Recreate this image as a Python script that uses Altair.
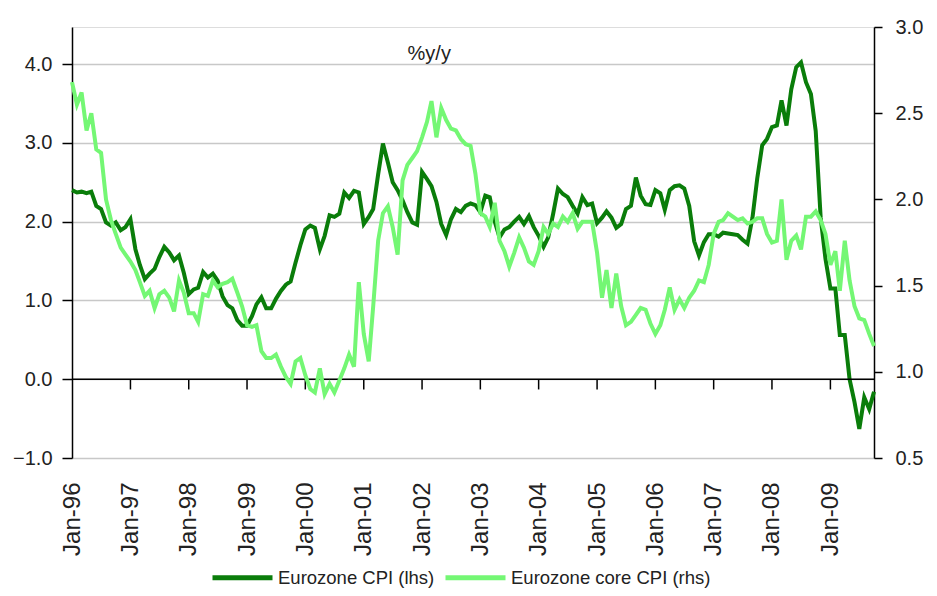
import altair as alt
import pandas as pd

# Eurozone CPI %y/y (left axis), monthly Jan-96 .. Oct-09
cpi_1996 = [2.40, 2.37, 2.38, 2.36, 2.38, 2.20, 2.16, 1.99, 1.95, 1.99, 1.89, 1.93]
cpi_1997 = [2.03, 1.65, 1.45, 1.27, 1.34, 1.40, 1.55, 1.68, 1.61, 1.51, 1.57, 1.35]
cpi_1998 = [1.08, 1.14, 1.16, 1.36, 1.29, 1.34, 1.25, 1.05, 0.94, 0.90, 0.75, 0.68]
cpi_1999 = [0.68, 0.80, 0.95, 1.04, 0.90, 0.90, 1.02, 1.12, 1.20, 1.24, 1.48, 1.70]
cpi_2000 = [1.90, 1.95, 1.92, 1.65, 1.82, 2.08, 2.06, 2.10, 2.37, 2.30, 2.39, 2.37]
cpi_2001 = [1.97, 2.06, 2.16, 2.60, 2.99, 2.75, 2.50, 2.40, 2.27, 2.12, 1.99, 1.96]
cpi_2002 = [2.63, 2.54, 2.45, 2.25, 1.97, 1.83, 2.03, 2.16, 2.12, 2.20, 2.23, 2.21]
cpi_2003 = [2.12, 2.33, 2.31, 2.00, 1.80, 1.90, 1.93, 2.00, 2.06, 1.97, 2.07, 1.93]
cpi_2004 = [1.82, 1.68, 1.80, 2.10, 2.42, 2.35, 2.31, 2.20, 2.10, 2.31, 2.21, 2.23]
cpi_2005 = [1.98, 2.05, 2.13, 2.05, 1.92, 1.97, 2.16, 2.20, 2.56, 2.33, 2.22, 2.21]
cpi_2006 = [2.40, 2.36, 2.15, 2.40, 2.45, 2.46, 2.42, 2.20, 1.75, 1.57, 1.74, 1.84]
cpi_2007 = [1.84, 1.81, 1.86, 1.85, 1.84, 1.83, 1.77, 1.72, 2.05, 2.55, 2.97, 3.05]
cpi_2008 = [3.20, 3.22, 3.54, 3.22, 3.68, 3.96, 4.02, 3.77, 3.62, 3.15, 2.05, 1.53]
cpi_2009 = [1.15, 1.15, 0.56, 0.56, 0.00, -0.29, -0.63, -0.23, -0.38, -0.16]

# Eurozone core CPI %y/y (right axis)
core_1996 = [2.68, 2.55, 2.62, 2.40, 2.50, 2.29, 2.27, 2.00, 1.88, 1.80, 1.72, 1.68]
core_1997 = [1.64, 1.59, 1.52, 1.44, 1.47, 1.37, 1.45, 1.47, 1.43, 1.35, 1.53, 1.46]
core_1998 = [1.34, 1.34, 1.29, 1.45, 1.44, 1.53, 1.49, 1.51, 1.52, 1.54, 1.46, 1.38]
core_1999 = [1.27, 1.26, 1.27, 1.12, 1.08, 1.08, 1.10, 1.03, 0.97, 0.93, 1.06, 1.08]
core_2000 = [0.98, 0.90, 0.88, 1.02, 0.87, 0.93, 0.88, 0.95, 1.02, 1.10, 1.03, 1.52]
core_2001 = [1.22, 1.06, 1.38, 1.76, 1.92, 1.96, 1.84, 1.68, 2.11, 2.20, 2.24, 2.28]
core_2002 = [2.36, 2.45, 2.57, 2.36, 2.53, 2.46, 2.41, 2.40, 2.35, 2.32, 2.31, 2.15]
core_2003 = [1.92, 1.90, 1.84, 1.98, 1.76, 1.70, 1.61, 1.69, 1.78, 1.72, 1.64, 1.62]
core_2004 = [1.70, 1.84, 1.80, 1.86, 1.84, 1.90, 1.87, 1.92, 1.83, 1.87, 1.87, 1.87]
core_2005 = [1.69, 1.43, 1.59, 1.37, 1.57, 1.38, 1.27, 1.29, 1.33, 1.37, 1.36, 1.28]
core_2006 = [1.22, 1.27, 1.36, 1.49, 1.36, 1.42, 1.37, 1.43, 1.47, 1.53, 1.52, 1.62]
core_2007 = [1.80, 1.87, 1.88, 1.92, 1.90, 1.88, 1.89, 1.86, 1.87, 1.89, 1.89, 1.80]
core_2008 = [1.75, 1.76, 2.00, 1.65, 1.76, 1.79, 1.71, 1.90, 1.90, 1.93, 1.88, 1.80]
core_2009 = [1.62, 1.70, 1.47, 1.76, 1.53, 1.38, 1.31, 1.30, 1.22, 1.15]

cpi = (cpi_1996 + cpi_1997 + cpi_1998 + cpi_1999 + cpi_2000 + cpi_2001 + cpi_2002
       + cpi_2003 + cpi_2004 + cpi_2005 + cpi_2006 + cpi_2007 + cpi_2008 + cpi_2009)
core = (core_1996 + core_1997 + core_1998 + core_1999 + core_2000 + core_2001 + core_2002
        + core_2003 + core_2004 + core_2005 + core_2006 + core_2007 + core_2008 + core_2009)

years = list(range(1996, 2010))
left_ticks = [-1.0, 0.0, 1.0, 2.0, 3.0, 4.0]
right_ticks = [0.5, 1.0, 1.5, 2.0, 2.5, 3.0]
series_names = ["Eurozone CPI (lhs)", "Eurozone core CPI (rhs)"]
series_colors = ["#0a7d0a", "#74f774"]
chart_label = "%y/y"

dates = pd.date_range("1996-01-01", periods=len(cpi), freq="MS")
df = pd.DataFrame({"date": dates.strftime("%Y-%m-%dT00:00:00"), "cpi": cpi, "core": core})
tick_df = pd.DataFrame({
    "date": [f"{y}-01-01T00:00:00" for y in years[1:]],
    "v": [0.0] * (len(years) - 1),
    "v2": [-0.13] * (len(years) - 1),
})
zero_df = pd.DataFrame({"v": [0.0]})
label_df = pd.DataFrame({"date": ["2002-02-15T00:00:00"], "v": [4.05], "t": [chart_label]})

FONT = "Liberation Sans, Arial"
TXT = "#222222"

x_enc = alt.X(
    "date:T",
    scale=alt.Scale(domain=[alt.DateTime(year=1996, month=1, date=1),
                            alt.DateTime(year=2009, month=10, date=1)]),
    axis=alt.Axis(format="%b-%y", values=[alt.DateTime(year=y, month=1, date=1) for y in years],
                  labelAngle=270, ticks=False, domain=False, grid=False, labelPadding=24,
                  title=None, labelFont=FONT, labelFontSize=24, labelColor=TXT),
)

left_scale = alt.Scale(domain=[-1, 4.47], nice=False, zero=False)
left_axis = alt.Axis(values=left_ticks, format=".1f", title=None, grid=True, gridColor="#c8c8c8",
                     gridWidth=1.5, domainColor="black", domainWidth=1.5, tickColor="black",
                     tickSize=10, tickWidth=1.5, labelPadding=10, orient="left",
                     labelFont=FONT, labelFontSize=20, labelColor=TXT)
right_scale = alt.Scale(domain=[0.5, 3.0], nice=False, zero=False)
right_axis = alt.Axis(values=right_ticks, format=".1f", title=None, grid=False,
                      domainColor="black", domainWidth=1.5, tickColor="black",
                      tickSize=8, tickWidth=1.5, labelPadding=13, orient="right",
                      labelFont=FONT, labelFontSize=20, labelColor=TXT)

color_scale = alt.Scale(domain=series_names, range=series_colors)
legend = alt.Legend(orient="none", legendX=138, legendY=518, direction="horizontal",
                    symbolType="stroke", symbolSize=3600, symbolStrokeWidth=5,
                    labelFont=FONT, labelFontSize=18.5, labelColor=TXT, labelOffset=3,
                    labelLimit=400, columnPadding=0, title=None)

base = alt.Chart(df)

cpi_line = base.mark_line(strokeWidth=4).transform_calculate(
    series=f"'{series_names[0]}'"
).encode(
    x=x_enc,
    y=alt.Y("cpi:Q", scale=left_scale, axis=left_axis),
    color=alt.Color("series:N", scale=color_scale, legend=legend),
)

zero_rule = alt.Chart(zero_df).mark_rule(color="black", strokeWidth=1.5).encode(
    y=alt.Y("v:Q", scale=left_scale, axis=left_axis),
)

year_ticks = alt.Chart(tick_df).mark_rule(color="black", strokeWidth=1.5).encode(
    x=alt.X("date:T"),
    y=alt.Y("v:Q", scale=left_scale, axis=left_axis),
    y2="v2:Q",
)

label = alt.Chart(label_df).mark_text(font=FONT, fontSize=20, color=TXT, baseline="alphabetic").encode(
    x=alt.X("date:T"),
    y=alt.Y("v:Q", scale=left_scale, axis=left_axis),
    text="t:N",
)

left_group = alt.layer(cpi_line, zero_rule, year_ticks, label)

core_line = base.mark_line(strokeWidth=4).transform_calculate(
    series=f"'{series_names[1]}'"
).encode(
    x=x_enc,
    y=alt.Y("core:Q", scale=right_scale, axis=right_axis),
    color=alt.Color("series:N", scale=color_scale, legend=legend),
)

chart = alt.layer(left_group, core_line).resolve_scale(y="independent").properties(
    width=802, height=431,
    padding={"left": 64, "top": 19, "right": 55, "bottom": 130},
    autosize=alt.AutoSizeParams(type="none"),
).configure_view(stroke=None).configure(background="white")

chart.save("out.html", embed_options={"renderer": "svg", "actions": False})
